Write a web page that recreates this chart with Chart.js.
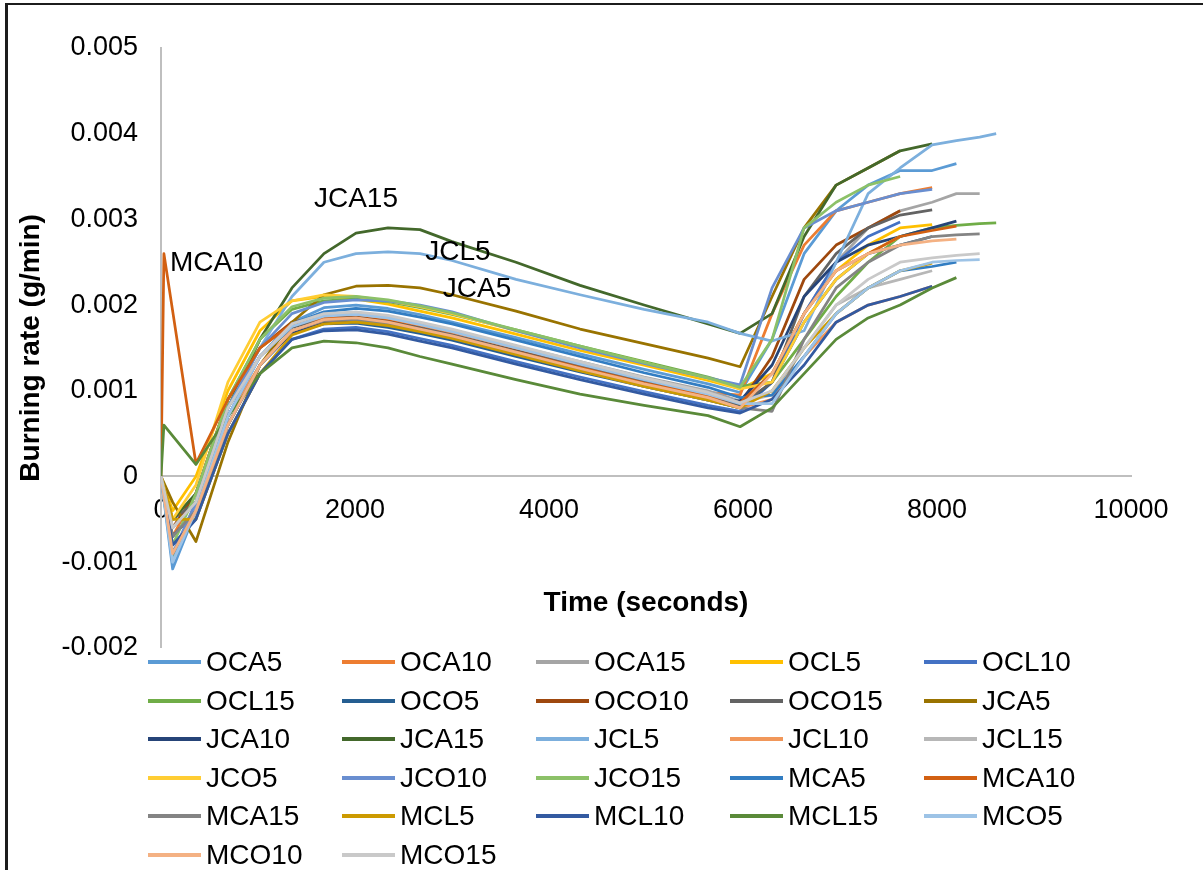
<!DOCTYPE html>
<html>
<head>
<meta charset="utf-8">
<script src="https://cdn.jsdelivr.net/npm/chart.js@4/dist/chart.umd.min.js"></script>
<style>
  html, body { margin: 0; padding: 0; background: #fff; }
  body { width: 1203px; height: 870px; position: relative; overflow: hidden;
         font-family: "Liberation Sans", Arial, sans-serif; }
  #frame { position: absolute; left: 5px; top: 3px; right: 0; bottom: 0;
           border-left: 3px solid #1c1c1c; border-top: 2px solid #1c1c1c; }
  #c { position: absolute; left: 0; top: 0; }
  #legend { position: absolute; left: 148px; top: 643px; display: grid;
            grid-template-columns: repeat(5, 194px); grid-auto-rows: 38.5px; }
  .item { display: flex; align-items: center; font-size: 28px; color: #000; white-space: nowrap; }
  .item span.ln { display: inline-block; width: 53px; height: 4px; margin-right: 5px; }
</style>
</head>
<body>
<div id="frame"></div>
<canvas id="c" width="1203" height="679"></canvas>
<div id="legend"></div>
<script>
// time (s), shared by all series; null = no sample for that series
var times = [0, 30, 120, 360, 690, 1020, 1350, 1680, 2010, 2340, 2670, 3000, 3660, 4320, 4980, 5640, 5970, 6300, 6630, 6960, 7290, 7620, 7950, 8200, 8440, 8610];
var n = null;

var oca5  = [0, n, -0.00108, -0.0004, 0.0007, 0.0014, 0.0018, 0.00197, 0.002, 0.00196, 0.00189, 0.0018, 0.00162, 0.00143, 0.00125, 0.00108, 0.00098, 0.0016, 0.0026, 0.0031, 0.0034, 0.00357, 0.00357, 0.00365];
var oca10 = [0, n, -0.0007, -0.0002, 0.0009, 0.0015, 0.00178, 0.00188, 0.00188, 0.00183, 0.00176, 0.00168, 0.0015, 0.00132, 0.00114, 0.00098, 0.00095, 0.0019, 0.0027, 0.0031, 0.0032, 0.0033, 0.00337];
var oca15 = [0, n, -0.0006, -0.0003, 0.0008, 0.0014, 0.00175, 0.00187, 0.00189, 0.00185, 0.00178, 0.0017, 0.00152, 0.00134, 0.00116, 0.001, 0.00088, 0.0012, 0.0019, 0.0025, 0.0029, 0.0031, 0.0032, 0.0033, 0.0033];
var ocl5  = [0, n, -0.0004, 0, 0.001, 0.0017, 0.00205, 0.0021, 0.00207, 0.00201, 0.00193, 0.00185, 0.00166, 0.00147, 0.0013, 0.00112, 0.00102, 0.0012, 0.0019, 0.0024, 0.0027, 0.0029, 0.00294];
var ocl10 = [0, n, -0.0008, -0.0005, 0.0005, 0.0012, 0.0016, 0.00172, 0.00174, 0.00169, 0.00161, 0.00153, 0.00134, 0.00116, 0.00099, 0.00083, 0.00076, 0.0011, 0.0019, 0.0025, 0.0028, 0.00297];
var ocl15 = [0, n, -0.00095, -0.0003, 0.0009, 0.0016, 0.00195, 0.00205, 0.00207, 0.00204, 0.00197, 0.00189, 0.00171, 0.00152, 0.00134, 0.00116, 0.00105, 0.0011, 0.0016, 0.0021, 0.0025, 0.0028, 0.0029, 0.00293, 0.00295, 0.00296];
var oco5  = [0, n, -0.0007, -0.0004, 0.0006, 0.0013, 0.00168, 0.00178, 0.00179, 0.00174, 0.00167, 0.00159, 0.0014, 0.00122, 0.00105, 0.00089, 0.0008, 0.0011, 0.0018, 0.0023, 0.0026, 0.0027, 0.0028];
var oco10 = [0, n, -0.0006, -0.0002, 0.0009, 0.0015, 0.0018, 0.00187, 0.00186, 0.00181, 0.00173, 0.00165, 0.00147, 0.00129, 0.00111, 0.00095, 0.00085, 0.0014, 0.0023, 0.0027, 0.0029, 0.0031];
var oco15 = [0, n, -0.0005, -0.0003, 0.0008, 0.0014, 0.00174, 0.00184, 0.00185, 0.0018, 0.00173, 0.00165, 0.00146, 0.00128, 0.0011, 0.00094, 0.00083, 0.0011, 0.0021, 0.0026, 0.0029, 0.00305, 0.00311];
var jca5  = [0, n, -0.0003, -0.00076, 0.0004, 0.0013, 0.0018, 0.00212, 0.00222, 0.00223, 0.0022, 0.00212, 0.00193, 0.00172, 0.00155, 0.00138, 0.00128, 0.0021, 0.0029, 0.0034, 0.0036, 0.0038];
var jca10 = [0, n, -0.0007, -0.0004, 0.0006, 0.0013, 0.00168, 0.0018, 0.00181, 0.00177, 0.0017, 0.00162, 0.00143, 0.00125, 0.00107, 0.00092, 0.00088, 0.0013, 0.0021, 0.0025, 0.0027, 0.0028, 0.0029, 0.00298];
var jca15 = [0, n, -0.0005, -0.0002, 0.0008, 0.0016, 0.0022, 0.0026, 0.00284, 0.0029, 0.00288, 0.00274, 0.0025, 0.00223, 0.002, 0.00178, 0.00167, 0.0019, 0.0028, 0.0034, 0.0036, 0.0038, 0.00388];
var jcl5  = [0, n, -0.001, -0.0003, 0.0008, 0.0015, 0.0021, 0.0025, 0.0026, 0.00262, 0.0026, 0.00252, 0.0023, 0.00212, 0.00195, 0.0018, 0.00167, 0.00158, 0.0017, 0.0025, 0.0033, 0.0036, 0.00387, 0.00392, 0.00396, 0.004];
var jcl10 = [0, n, -0.0009, -0.0004, 0.0007, 0.0013, 0.0017, 0.00182, 0.00183, 0.00178, 0.0017, 0.00162, 0.00143, 0.00124, 0.00106, 0.0009, 0.0008, 0.0009, 0.0014, 0.0018, 0.002, 0.0021, 0.00222];
var jcl15 = [0, n, -0.0006, -0.0003, 0.0008, 0.0014, 0.00176, 0.00188, 0.0019, 0.00186, 0.00179, 0.00171, 0.00152, 0.00133, 0.00115, 0.00098, 0.00086, 0.00095, 0.0015, 0.002, 0.0022, 0.0023, 0.0024];
var jco5  = [0, n, -0.0005, -0.0001, 0.0011, 0.0018, 0.00205, 0.00212, 0.0021, 0.00205, 0.00198, 0.0019, 0.0017, 0.00151, 0.00133, 0.00114, 0.00102, 0.0011, 0.0018, 0.0023, 0.0026, 0.0028];
var jco10 = [0, n, -0.0009, -0.0003, 0.0008, 0.0015, 0.0019, 0.00203, 0.00206, 0.00205, 0.002, 0.00192, 0.0017, 0.0015, 0.00132, 0.00115, 0.00107, 0.0022, 0.0029, 0.0031, 0.0032, 0.0033, 0.00335];
var jco15 = [0, n, -0.0008, -0.0002, 0.0009, 0.0016, 0.00198, 0.00208, 0.0021, 0.00206, 0.00199, 0.00191, 0.00171, 0.00152, 0.00133, 0.00115, 0.00104, 0.0016, 0.0029, 0.0032, 0.0034, 0.0035];
var mca5  = [0, n, -0.0009, -0.0004, 0.0007, 0.0014, 0.00178, 0.00192, 0.00196, 0.00193, 0.00186, 0.00178, 0.00159, 0.0014, 0.00121, 0.00104, 0.00092, 0.00095, 0.0014, 0.0019, 0.0022, 0.0024, 0.00245, 0.0025];
var mca10 = [0, 0.0026, n, 0.00015, 0.0009, 0.0015, 0.00178, 0.00185, 0.00184, 0.00179, 0.00171, 0.00163, 0.00145, 0.00127, 0.00109, 0.00094, 0.00086, 0.0012, 0.0019, 0.0024, 0.0026, 0.0028, 0.00287, 0.00292];
var mca15 = [0, n, -0.0007, -0.0004, 0.0006, 0.0013, 0.0017, 0.00182, 0.00183, 0.00178, 0.0017, 0.00162, 0.00143, 0.00124, 0.00105, 0.00089, 0.0008, 0.00076, 0.0016, 0.0022, 0.0025, 0.0027, 0.0028, 0.00282, 0.00283];
var mcl5  = [0, n, -0.0005, -0.0005, 0.0005, 0.0012, 0.00165, 0.00178, 0.0018, 0.00176, 0.00169, 0.00161, 0.00142, 0.00123, 0.00105, 0.00089, 0.0008, 0.001, 0.0015, 0.0019, 0.0022, 0.0024, 0.00249];
var mcl10 = [0, n, -0.0008, -0.0005, 0.0005, 0.0012, 0.0016, 0.0017, 0.00171, 0.00166, 0.00158, 0.0015, 0.00131, 0.00113, 0.00096, 0.0008, 0.00074, 0.0009, 0.0013, 0.0018, 0.002, 0.0021, 0.00222];
var mcl15 = [0, 0.0006, n, 0.00014, 0.0007, 0.0012, 0.0015, 0.00158, 0.00156, 0.0015, 0.0014, 0.00131, 0.00113, 0.00096, 0.00083, 0.00071, 0.00058, 0.0008, 0.0012, 0.0016, 0.00185, 0.002, 0.0022, 0.00232];
var mco5  = [0, n, -0.001, -0.0004, 0.0007, 0.0014, 0.00175, 0.00187, 0.00189, 0.00185, 0.00177, 0.00169, 0.0015, 0.00131, 0.00113, 0.00096, 0.00085, 0.00085, 0.0014, 0.0019, 0.0022, 0.0024, 0.0025, 0.00252, 0.00253];
var mco10 = [0, n, -0.0009, -0.0004, 0.0006, 0.0013, 0.0017, 0.00183, 0.00185, 0.0018, 0.00172, 0.00164, 0.00145, 0.00126, 0.00108, 0.00092, 0.0008, 0.0012, 0.0019, 0.0024, 0.0026, 0.0027, 0.00275, 0.00277];
var mco15 = [0, n, -0.0006, -0.0003, 0.0008, 0.0014, 0.00178, 0.0019, 0.00192, 0.00188, 0.0018, 0.00172, 0.00153, 0.00134, 0.00115, 0.00098, 0.00086, 0.001, 0.0015, 0.002, 0.0023, 0.0025, 0.00255, 0.00258, 0.0026];

var names = ["OCA5","OCA10","OCA15","OCL5","OCL10","OCL15","OCO5","OCO10","OCO15","JCA5",
             "JCA10","JCA15","JCL5","JCL10","JCL15","JCO5","JCO10","JCO15","MCA5","MCA10",
             "MCA15","MCL5","MCL10","MCL15","MCO5","MCO10","MCO15"];
var values = [oca5, oca10, oca15, ocl5, ocl10, ocl15, oco5, oco10, oco15, jca5,
              jca10, jca15, jcl5, jcl10, jcl15, jco5, jco10, jco15, mca5, mca10,
              mca15, mcl5, mcl10, mcl15, mco5, mco10, mco15];
var colors = ["#5B9BD5","#ED7D31","#A5A5A5","#FFC000","#4472C4","#70AD47","#255E91","#9E480E","#636363","#997300",
              "#264478","#43682B","#7CAFDD","#F1975A","#B7B7B7","#FFCD33","#698ED0","#8CC168","#327DC2","#D26012",
              "#848484","#CC9A00","#335AA1","#5A8A39","#9DC3E6","#F4B183","#C9C9C9"];

var yTicks = [-0.002, -0.001, 0, 0.001, 0.002, 0.003, 0.004, 0.005];
var xTicks = [0, 2000, 4000, 6000, 8000, 10000];

// data labels shown on the chart: series name, sample index, pixel offset
var notes = [
  {name: "MCA10", at: 1, dx: 6, dy: 10, align: "left"},
  {name: "JCA15", at: 8, dx: 0, dy: -34, align: "center"},
  {name: "JCL5", at: 11, dx: 6, dy: -8, align: "center"},
  {name: "JCA5", at: 11, dx: 25, dy: -5, align: "center"}
];

var FONT = '"Liberation Sans", Arial, sans-serif';
Chart.defaults.color = "#000";
Chart.defaults.font.family = FONT;

var datasets = names.map(function(nm, i) {
  return {
    label: nm,
    data: times.slice(0, values[i].length).map(function(t, k) { return {x: t, y: values[i][k]}; }),
    borderColor: colors[i],
    backgroundColor: colors[i],
    borderWidth: 2.75,
    pointRadius: 0,
    tension: 0,
    borderJoinStyle: "round",
    order: names.length - i
  };
});

var labelPlugin = {
  id: "dataNotes",
  afterDatasetsDraw: function(chart) {
    var ctx = chart.ctx, xs = chart.scales.x, ys = chart.scales.y;
    ctx.save();
    ctx.font = "28px " + FONT;
    ctx.fillStyle = "#000";
    ctx.textBaseline = "middle";
    notes.forEach(function(nt) {
      var i = names.indexOf(nt.name);
      var px = xs.getPixelForValue(times[nt.at]);
      var py = ys.getPixelForValue(values[i][nt.at]);
      ctx.textAlign = nt.align;
      ctx.fillText(nt.name, px + nt.dx, py + nt.dy);
    });
    ctx.restore();
  }
};

var chart = new Chart(document.getElementById("c"), {
  type: "line",
  data: {datasets: datasets},
  plugins: [labelPlugin],
  options: {
    responsive: false,
    animation: false,
    spanGaps: true,
    layout: {padding: {left: 10, top: 48, right: 72, bottom: 14}},
    plugins: {legend: {display: false}, tooltip: {enabled: false}},
    scales: {
      x: {
        type: "linear",
        min: 0, max: 10000,
        position: {y: 0},
        afterBuildTicks: function(s) { s.ticks = xTicks.map(function(v) { return {value: v}; }); },
        ticks: {font: {size: 27}, padding: 10, maxRotation: 0, callback: function(v) { return String(v); }},
        grid: {display: false},
        border: {color: "#BFBFBF", width: 2},
        title: {display: true, text: "Time (seconds)", font: {size: 28, weight: "bold"}, padding: {top: 50, bottom: 0}}
      },
      y: {
        min: -0.002, max: 0.005,
        afterBuildTicks: function(s) { s.ticks = yTicks.map(function(v) { return {value: v}; }); },
        afterFit: function(s) { s.width = 151; },
        ticks: {font: {size: 27}, padding: 15, callback: function(v) { return v === 0 ? "0" : v.toFixed(3); }},
        grid: {display: false},
        border: {color: "#BFBFBF", width: 2},
        title: {display: true, text: "Burning rate (g/min)", font: {size: 28, weight: "bold"}, padding: {top: 4, bottom: 0}}
      }
    }
  }
});

// legend grid, five columns like the original
var legend = document.getElementById("legend");
chart.data.datasets.forEach(function(ds) {
  var it = document.createElement("div");
  it.className = "item";
  var ln = document.createElement("span");
  ln.className = "ln";
  ln.style.background = ds.borderColor;
  it.appendChild(ln);
  it.appendChild(document.createTextNode(ds.label));
  legend.appendChild(it);
});
</script>
</body>
</html>
